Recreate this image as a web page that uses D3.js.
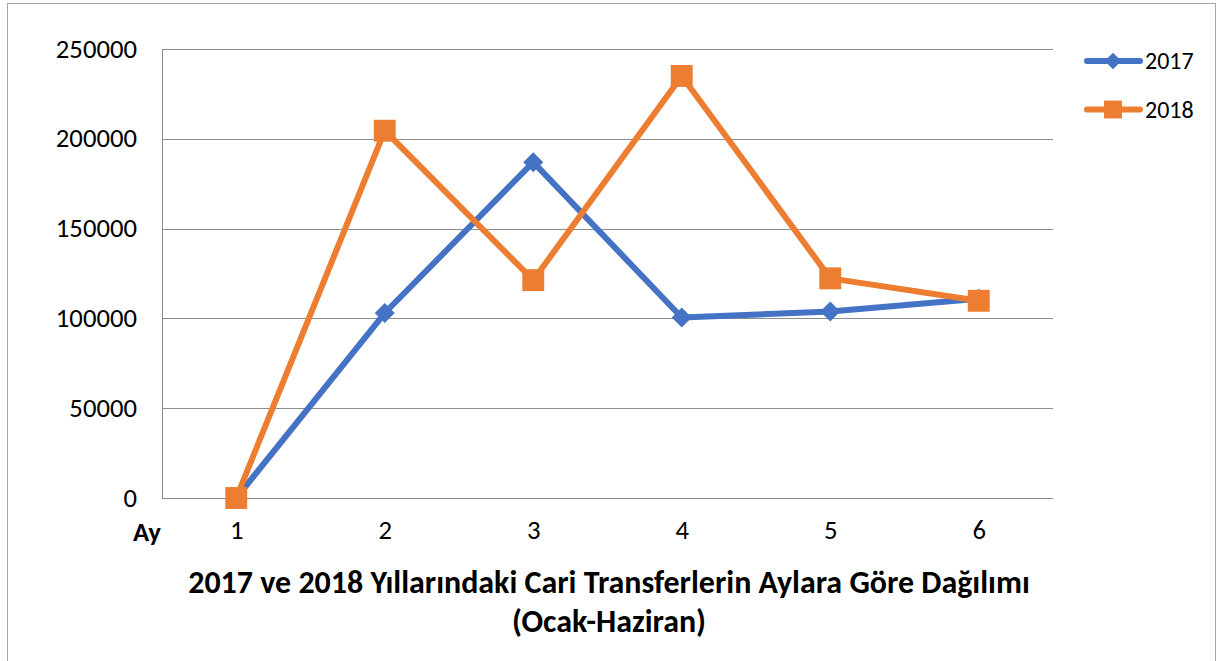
<!DOCTYPE html>
<html>
<head>
<meta charset="utf-8">
<script src="https://cdn.jsdelivr.net/npm/d3@7"></script>
<style>
  body { margin: 0; background: #fff; }
  text { font-family: Carlito, Calibri, "Liberation Sans", sans-serif; fill: #000; }
</style>
</head>
<body>
<div id="chart"></div>
<script>
var months = ["1", "2", "3", "4", "5", "6"];
var values2017 = [0, 103000, 187000, 100500, 103800, 111000];
var values2018 = [0, 204500, 121300, 235000, 122300, 109800];
var yTicks = [0, 50000, 100000, 150000, 200000, 250000];
var seriesNames = ["2017", "2018"];

var W = 1217, H = 661;
var margin = {top: 49, right: 164, bottom: 163, left: 162},
    width = W - margin.left - margin.right,
    height = H - margin.top - margin.bottom;

var svg = d3.select("#chart").append("svg")
    .attr("width", W)
    .attr("height", H);

// outer frame (bottom edge is off the picture)
svg.append("rect")
    .attr("x", 7.5).attr("y", 3.5)
    .attr("width", 1208).attr("height", 700)
    .attr("fill", "none")
    .attr("stroke", "#a6a6a6");

// cut-off blue text at the very top, as in the source
svg.append("text")
    .attr("x", 1127).attr("y", -5)
    .style("font-size", "16px")
    .style("fill", "#2e75b6")
    .text("y");

var g = svg.append("g")
    .attr("transform", "translate(" + margin.left + "," + margin.top + ")");

var x = d3.scalePoint()
    .domain(months)
    .range([0, width])
    .padding(0.5);

var y = d3.scaleLinear()
    .domain([0, 250000])
    .range([height, 0]);

// gridlines
g.selectAll(".grid")
    .data(yTicks)
    .enter().append("line")
    .attr("class", "grid")
    .attr("x1", 0).attr("x2", width)
    .attr("y1", d => Math.round(y(d)) + 0.5)
    .attr("y2", d => Math.round(y(d)) + 0.5)
    .attr("stroke", "#8c8c8c")
    .attr("stroke-width", 1);

g.append("line")
    .attr("x1", 0.5).attr("x2", 0.5)
    .attr("y1", 0).attr("y2", height)
    .attr("stroke", "#8c8c8c");

// y labels
var yAxis = d3.axisLeft(y).tickValues(yTicks).tickSize(0).tickPadding(25).tickFormat(d3.format("d"));
var ya = g.append("g").call(yAxis);
ya.select(".domain").remove();
ya.selectAll("text")
    .style("font-size", "26.7px")
    .style("font-family", "Carlito, Calibri, 'Liberation Sans', sans-serif")
    .attr("fill", "#000")
    .attr("dy", "0.3em");

// x labels
var xAxis = d3.axisBottom(x).tickSize(0).tickPadding(22);
var xa = g.append("g").attr("transform", "translate(0," + height + ")").call(xAxis);
xa.select(".domain").remove();
xa.selectAll("text")
    .style("font-size", "26.7px")
    .style("font-family", "Carlito, Calibri, 'Liberation Sans', sans-serif")
    .attr("fill", "#000")
    .attr("dy", "0.71em");

svg.append("text")
    .attr("x", 147).attr("y", 541)
    .attr("text-anchor", "middle")
    .style("font-size", "26.7px")
    .style("font-weight", "bold")
    .text("Ay");

var colors = ["#4472c4", "#ed7d31"];
var data = [values2017, values2018];
var markers = [
    d3.symbol().type(d3.symbolSquare).size(200),
    d3.symbol().type(d3.symbolSquare).size(480)
];
var rot = [45, 0];

var line = d3.line()
    .x((d, i) => x(months[i]))
    .y(d => y(d));

data.forEach(function(vals, s) {
    g.append("path")
        .datum(vals)
        .attr("d", line)
        .attr("fill", "none")
        .attr("stroke", colors[s])
        .attr("stroke-width", 6)
        .attr("stroke-linejoin", "round")
        .attr("stroke-linecap", "round");
    g.selectAll(".m" + s)
        .data(vals)
        .enter().append("path")
        .attr("class", "m" + s)
        .attr("d", markers[s])
        .attr("fill", colors[s])
        .attr("transform", (d, i) => "translate(" + x(months[i]) + "," + y(d) + ") rotate(" + rot[s] + ")");
});

// legend
var legend = svg.selectAll(".legend")
    .data(seriesNames)
    .enter().append("g")
    .attr("class", "legend")
    .attr("transform", (d, i) => "translate(1085," + (61 + i * 48.5) + ")");

legend.append("line")
    .attr("x1", 2).attr("x2", 55)
    .attr("y1", 0).attr("y2", 0)
    .attr("stroke", (d, i) => colors[i])
    .attr("stroke-width", 6)
    .attr("stroke-linecap", "round");

legend.append("path")
    .attr("d", (d, i) => i === 0 ? d3.symbol().type(d3.symbolSquare).size(140)() : d3.symbol().type(d3.symbolSquare).size(320)())
    .attr("transform", (d, i) => "translate(28,0) rotate(" + rot[i] + ")")
    .attr("fill", (d, i) => colors[i]);

legend.append("text")
    .attr("x", 60)
    .attr("y", 8)
    .style("font-size", "24px")
    .text(d => d);

// title
var t1 = svg.append("text")
    .attr("x", 609).attr("y", 593)
    .attr("text-anchor", "middle")
    .style("font-size", "26px")
    .style("font-weight", "bold")
    .text("2017 ve 2018 Yıllarındaki Cari Transferlerin Aylara Göre Dağılımı");
var w1 = t1.node().getComputedTextLength();
var fs = 26 * 842 / w1;
t1.style("font-size", fs + "px");

svg.append("text")
    .attr("x", 609).attr("y", 632)
    .attr("text-anchor", "middle")
    .style("font-size", fs + "px")
    .style("font-weight", "bold")
    .text("(Ocak-Haziran)");
</script>
</body>
</html>
